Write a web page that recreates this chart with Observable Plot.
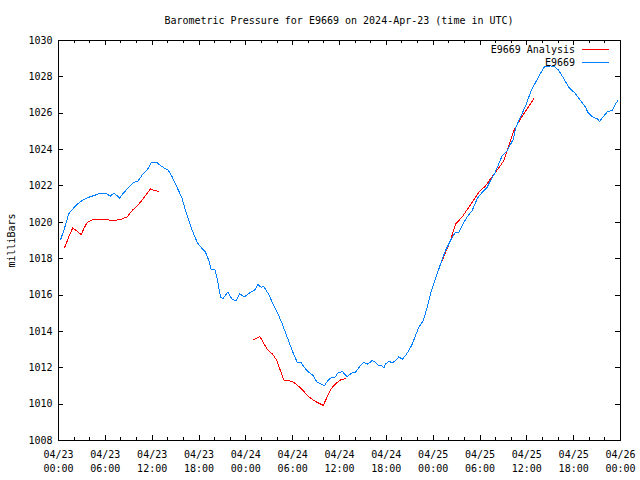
<!DOCTYPE html>
<html>
<head>
<meta charset="utf-8">
<script src="https://cdn.jsdelivr.net/npm/d3@7"></script>
<script src="https://cdn.jsdelivr.net/npm/@observablehq/plot@0.6"></script>
<style>
  body { margin: 0; background: #fff; }
  #wrap { position: relative; width: 640px; height: 480px; font-family: "DejaVu Sans Mono", monospace; font-size: 10px; color: #000; }
  #title { position: absolute; top: 15px; left: 58px; width: 562px; text-align: center; line-height: 12px; }
  .leg { position: absolute; left: 380px; width: 195px; text-align: right; line-height: 12px; }
  .sw { position: absolute; left: 582px; width: 27px; height: 1px; }
  svg path, svg line { shape-rendering: crispEdges; }
</style>
</head>
<body>
<div id="wrap">
  <div id="title">Barometric Pressure for E9669 on 2024-Apr-23 (time in UTC)</div>
</div>
<script>
// ---- data (hours after 2024-04-23 00:00 UTC, pressure in mb) ----
const startDay = "2024-04-23T00:00Z";
const endDay = "2024-04-26T00:00Z";
const stationName = "E9669";
const analysisName = "E9669 Analysis";

const stationHours = [0.26,0.68,1.32,1.76,2.40,3.04,3.88,4.74,5.38,6.02,6.66,7.05,7.52,7.85,8.16,8.80,9.65,10.16,10.72,11.57,11.88,12.56,13.07,13.71,14.0,14.57,14.99,15.54,15.85,16.27,16.69,17.13,17.77,18.41,18.83,19.26,19.56,20.03,20.33,20.76,21.05,21.69,22.25,22.77,23.19,23.83,24.60,25.11,25.53,25.97,26.30,26.94,27.38,28.02,28.66,29.30,29.94,30.58,31.09,31.65,32.07,32.63,33.14,33.57,34.08,34.50,34.94,35.36,35.78,36.35,36.99,37.50,38.05,38.60,39.11,39.63,40.19,40.61,41.04,41.47,41.68,41.89,42.32,42.75,43.18,43.60,44.04,44.46,44.88,45.32,45.74,46.16,46.73,47.15,47.66,48.30,48.94,49.58,50.22,50.86,51.29,51.72,52.36,53.00,53.64,54.28,54.92,55.35,55.86,56.41,56.85,57.49,58.30,58.56,59.20,59.84,60.48,61.12,61.76,62.28,63.04,63.56,64.10,64.74,65.38,66.24,66.88,67.52,67.81,68.38,69.02,69.31,69.66,70.37,70.94,71.36,71.66];
const stationMb = [1019.04,1019.55,1020.47,1020.70,1021.0,1021.2,1021.38,1021.5,1021.6,1021.6,1021.44,1021.6,1021.47,1021.33,1021.53,1021.84,1022.2,1022.25,1022.6,1023.0,1023.3,1023.3,1023.12,1022.94,1022.9,1022.5,1022.1,1021.6,1021.3,1020.65,1020.1,1019.55,1018.9,1018.54,1018.36,1017.9,1017.4,1017.4,1016.9,1015.88,1015.8,1016.16,1015.76,1015.7,1016.07,1015.9,1016.16,1016.25,1016.58,1016.43,1016.47,1016.03,1015.6,1015.06,1014.42,1013.68,1012.95,1012.3,1012.27,1011.94,1011.76,1011.57,1011.2,1011.12,1011.02,1011.3,1011.45,1011.45,1011.7,1011.8,1011.5,1011.7,1011.75,1012.08,1012.3,1012.2,1012.4,1012.3,1012.1,1012.1,1011.98,1012.2,1012.36,1012.27,1012.4,1012.6,1012.47,1012.67,1012.95,1013.3,1013.77,1014.23,1014.6,1015.2,1016.07,1016.9,1017.7,1018.45,1019.0,1019.46,1019.46,1019.83,1020.3,1020.65,1021.3,1021.66,1021.93,1022.3,1022.67,1023.22,1023.67,1023.95,1024.6,1025.2,1025.8,1026.4,1027.16,1027.7,1028.2,1028.57,1028.6,1028.57,1028.35,1027.9,1027.43,1027.07,1026.7,1026.33,1026.06,1025.8,1025.7,1025.55,1025.75,1026.1,1026.15,1026.5,1026.7];

// null entries separate the three analysis runs
const analysisHours = [0.77,1.32,1.83,2.40,2.91,3.24,3.68,4.32,5.38,6.24,7.08,7.94,8.80,9.44,10.29,11.15,11.79,12.30,12.85,null,
  24.94,25.79,26.23,26.74,27.38,27.93,28.35,28.87,29.51,30.15,30.79,31.43,32.07,32.71,33.35,33.91,34.43,34.85,35.49,36.13,36.77,null,
  49.16,50.22,50.86,51.72,52.36,53.00,53.85,54.71,55.35,55.99,56.63,57.06,57.49,58.35,59.20,60.05,60.90];
const analysisMb = [1018.6,1019.2,1019.7,1019.5,1019.33,1019.65,1020.0,1020.14,1020.15,1020.14,1020.1,1020.15,1020.3,1020.65,1021.0,1021.47,1021.84,1021.75,1021.7,null,
  1013.54,1013.72,1013.4,1013.0,1012.77,1012.44,1011.94,1011.33,1011.3,1011.2,1010.97,1010.7,1010.4,1010.2,1010.05,1009.93,1010.4,1010.8,1011.12,1011.33,1011.4,null,
  1017.9,1019.0,1019.9,1020.3,1020.7,1021.1,1021.66,1022.0,1022.4,1022.76,1023.12,1023.4,1023.95,1025.05,1025.7,1026.24,1026.8];

const yTickValues = [1008,1010,1012,1014,1016,1018,1020,1022,1024,1026,1028,1030];

// ---- build ----
const t0 = new Date(startDay), t1 = new Date(endDay);
const toDate = h => h == null ? null : new Date(t0.getTime() + h * 3600e3);
const station = stationHours.map((h, i) => ({t: toDate(h), p: stationMb[i]}));
const analysis = analysisHours.map((h, i) => ({t: toDate(h), p: analysisMb[i]}));

const W = 640, H = 480, mL = 58, mR = 20, mT = 40, mB = 40;
const iw = W - mL - mR, ih = H - mT - mB;
const xMajor = d3.utcHour.every(6).range(t0, new Date(t1.getTime() + 1));
const xMinor = d3.utcHour.every(2).range(t0, new Date(t1.getTime() + 1)).filter(d => d.getUTCHours() % 6 !== 0);
const fmt = d => d3.utcFormat("%m/%d")(d) + "\n" + d3.utcFormat("%H:%M")(d);

const chart = Plot.plot({
  width: W, height: H,
  marginLeft: mL, marginRight: mR, marginTop: mT, marginBottom: mB,
  style: {fontFamily: "DejaVu Sans Mono, monospace", fontSize: "10px", color: "#000", background: "#fff"},
  x: {type: "utc", domain: [t0, t1]},
  y: {domain: [1008, 1030]},
  marks: [
    Plot.axisX({ticks: xMajor, tickFormat: fmt, tickSize: 0, tickPadding: 7, lineHeight: 1.45, label: null}),
    Plot.axisY({ticks: yTickValues, tickFormat: d => String(d), tickSize: 0, tickPadding: 6,
      label: "milliBars", labelAnchor: "center", labelOffset: 51, labelArrow: "none"}),
    // inward tick marks on all four sides
    Plot.ruleX(xMajor, {x: d => d, insetTop: ih - 5, stroke: "#000"}),
    Plot.ruleX(xMajor, {x: d => d, insetBottom: ih - 5, stroke: "#000"}),
    Plot.ruleX(xMinor, {x: d => d, insetTop: ih - 3, stroke: "#000"}),
    Plot.ruleX(xMinor, {x: d => d, insetBottom: ih - 3, stroke: "#000"}),
    Plot.ruleY(yTickValues, {y: d => d, insetRight: iw - 5, stroke: "#000"}),
    Plot.ruleY(yTickValues, {y: d => d, insetLeft: iw - 5, stroke: "#000"}),
    Plot.frame({stroke: "#000"}),
    Plot.line(analysis, {x: "t", y: "p", stroke: "#ff0000", strokeWidth: 1}),
    Plot.line(station, {x: "t", y: "p", stroke: "#0080ff", strokeWidth: 1})
  ]
});
const wrap = document.getElementById("wrap");
wrap.insertBefore(chart, wrap.firstChild);

// legend (top-right inside plot area)
[[analysisName, "#ff0000", 44], [stationName, "#0080ff", 57]].forEach(([name, color, top]) => {
  const t = document.createElement("div");
  t.className = "leg"; t.style.top = top + "px"; t.textContent = name;
  wrap.appendChild(t);
  const s = document.createElement("div");
  s.className = "sw"; s.style.top = (top + 5) + "px"; s.style.background = color;
  wrap.appendChild(s);
});
</script>
</body>
</html>
